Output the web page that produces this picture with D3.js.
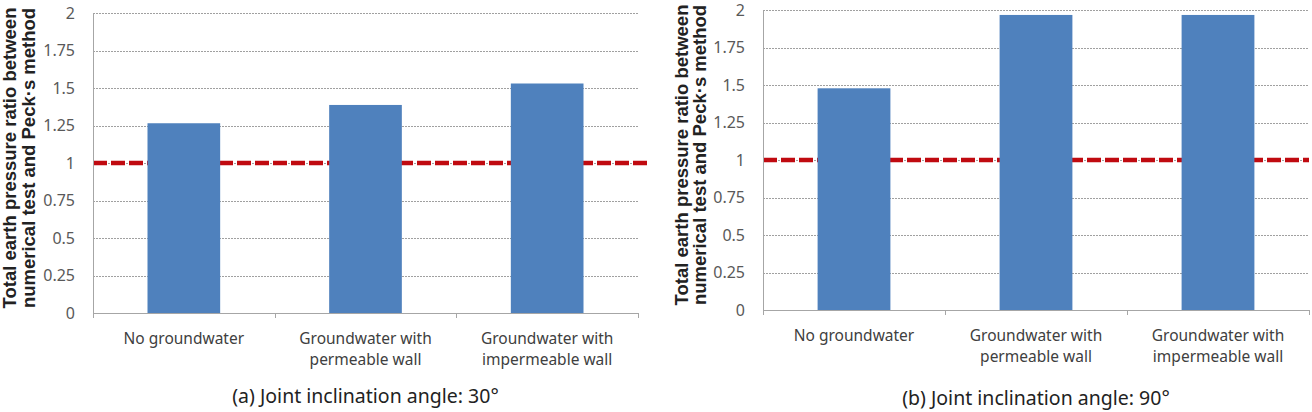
<!DOCTYPE html>
<html>
<head>
<meta charset="utf-8">
<script src="https://cdn.jsdelivr.net/npm/d3@7"></script>
<style>
  body { margin: 0; background: #fff; }
  svg { display: block; }
  .grid line { stroke: #a0a0a0; stroke-width: 1; stroke-dasharray: 2,1; }
  .tick-label { font-family: "Noto Sans", sans-serif; font-size: 16px; fill: #595959; }
  .cat-label { font-family: "Noto Sans", sans-serif; font-size: 15.5px; fill: #404040; }
  .y-title { font-family: "Liberation Sans", Arial, sans-serif; font-size: 18.5px; font-weight: bold; fill: #222; }
  .caption { font-family: "Noto Sans", sans-serif; font-size: 19.5px; fill: #222; }
</style>
</head>
<body>
<div id="mainDiv"></div>
<script>
// Categories (two-line labels)
const categories = [
	["No groundwater"],
	["Groundwater with", "permeable wall"],
	["Groundwater with", "impermeable wall"]
];

// Total earth pressure ratio, joint inclination 30 deg and 90 deg
const ratio30 = [1.265, 1.387, 1.53];
const ratio90 = [1.478, 1.967, 1.967];

const yTicks = [0, 0.25, 0.5, 0.75, 1, 1.25, 1.5, 1.75, 2];
const yTickLabels = ["0", "0.25", "0.5", "0.75", "1", "1.25", "1.5", "1.75", "2"];
const refValue = 1;

const titleLines = ["Total earth pressure ratio between", "numerical test and Peck\u00b7s method"];
const captions = ["(a) Joint inclination angle: 30\u00b0", "(b) Joint inclination angle: 90\u00b0"];

let width = 1312,
	height = 412;

let svg = d3.select("#mainDiv").append("svg")
			.attr("width", width)
			.attr("height", height);

// one panel per angle
let panels = [
	{values: ratio30, caption: captions[0], x0: 93, x1: 638, yTop: 13, yBot: 313, titleX: [16, 35], catY: 344, capY: 403, refEnd: 10},
	{values: ratio90, caption: captions[1], x0: 763, x1: 1309, yTop: 10, yBot: 310, titleX: [688, 706], catY: 341, capY: 405, refEnd: 0}
];

panels.forEach(function(p) {

	let x = d3.scaleBand()
				.domain(d3.range(categories.length))
				.range([p.x0, p.x1])
				.paddingInner(0.6)
				.paddingOuter(0.3);

	// band boundaries for the category ticks
	let step = (p.x1 - p.x0) / categories.length;

	let y = d3.scaleLinear()
				.domain([0, 2])
				.range([p.yBot, p.yTop]);

	let g = svg.append("g");

	// gridlines
	g.append("g")
		.attr("class", "grid")
		.selectAll("line")
			.data(yTicks.slice(1))
		.enter().append("line")
			.attr("x1", p.x0)
			.attr("x2", p.x1)
			.attr("y1", function(d) { return Math.round(y(d)) + 0.5; })
			.attr("y2", function(d) { return Math.round(y(d)) + 0.5; });

	// y tick labels
	g.selectAll(".tick-label")
		.data(yTicks)
	.enter().append("text")
		.attr("class", "tick-label")
		.attr("x", p.x0 - 18)
		.attr("y", function(d) { return y(d); })
		.attr("dy", "0.36em")
		.style("text-anchor", "end")
		.text(function(d, i) { return yTickLabels[i]; });

	// reference line at ratio 1 (behind bars)
	g.append("line")
		.attr("x1", p.x0)
		.attr("x2", p.x1 + p.refEnd)
		.attr("y1", y(refValue))
		.attr("y2", y(refValue))
		.attr("stroke", "#c00a10")
		.attr("stroke-width", 4.5)
		.attr("stroke-dasharray", "14,4");

	// bars
	g.selectAll(".bar")
		.data(p.values)
	.enter().append("rect")
		.attr("class", "bar")
		.attr("x", function(d, i) { return x(i); })
		.attr("width", x.bandwidth())
		.attr("y", function(d) { return y(d); })
		.attr("height", function(d) { return y(0) - y(d); })
		.attr("fill", "#4f81bd");

	// axes lines
	g.append("line")
		.attr("x1", p.x0 + 0.5).attr("x2", p.x0 + 0.5)
		.attr("y1", p.yTop).attr("y2", p.yBot)
		.attr("stroke", "#a6a6a6");
	g.append("line")
		.attr("x1", p.x0).attr("x2", p.x1)
		.attr("y1", p.yBot + 0.5).attr("y2", p.yBot + 0.5)
		.attr("stroke", "#a6a6a6");
	g.selectAll(".cat-tick")
		.data(d3.range(categories.length + 1))
	.enter().append("line")
		.attr("x1", function(d) { return Math.round(p.x0 + d * step) + 0.5; })
		.attr("x2", function(d) { return Math.round(p.x0 + d * step) + 0.5; })
		.attr("y1", p.yBot)
		.attr("y2", p.yBot + 5)
		.attr("stroke", "#a6a6a6");

	// category labels
	let cat = g.selectAll(".cat-label")
		.data(categories)
	.enter().append("text")
		.attr("class", "cat-label")
		.attr("y", p.catY)
		.style("text-anchor", "middle");
	cat.each(function(lines, i) {
		let t = d3.select(this);
		lines.forEach(function(line, j) {
			t.append("tspan")
				.attr("x", x(i) + x.bandwidth() / 2)
				.attr("dy", j === 0 ? 0 : 21)
				.text(line);
		});
	});

	// y axis title, two rotated lines
	let cy = (p.yTop + p.yBot) / 2 - 5;
	titleLines.forEach(function(line, j) {
		g.append("text")
			.attr("class", "y-title")
			.attr("transform", "translate(" + p.titleX[j] + "," + cy + ") rotate(-90)")
			.style("text-anchor", "middle")
			.text(line);
	});

	// caption
	g.append("text")
		.attr("class", "caption")
		.attr("x", (p.x0 + p.x1) / 2)
		.attr("y", p.capY)
		.style("text-anchor", "middle")
		.text(p.caption);
});
</script>
</body>
</html>
